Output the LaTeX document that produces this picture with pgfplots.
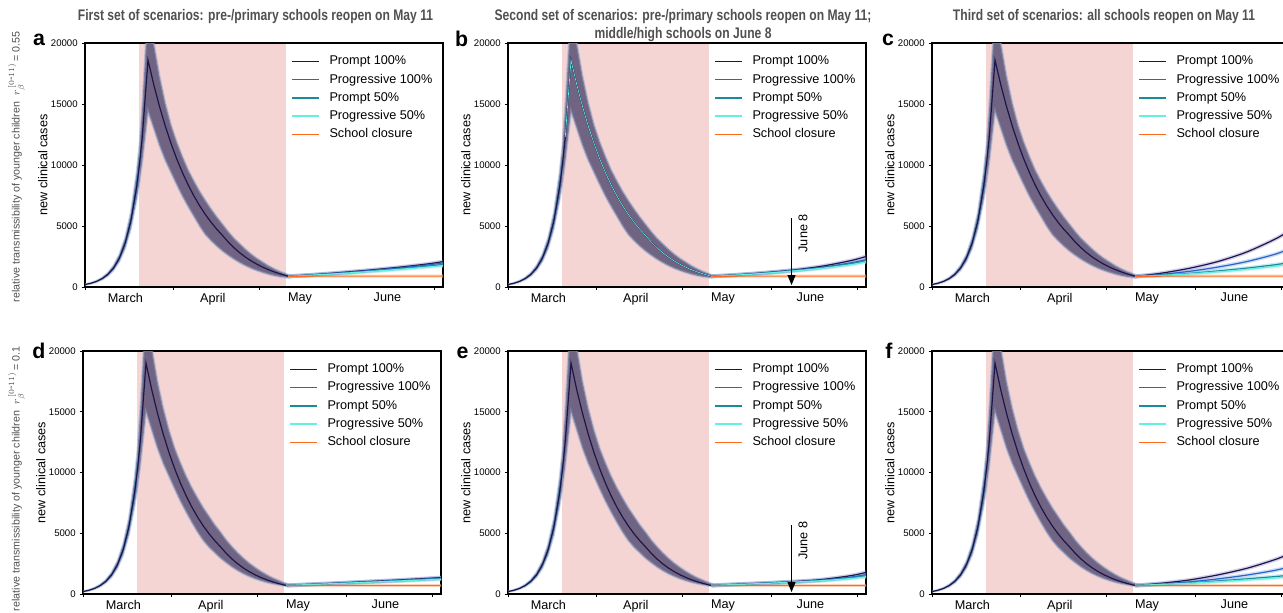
\documentclass[border=0pt]{standalone}
\usepackage{pgfplots}
\pgfplotsset{compat=1.18}
\usepackage{pgfplotstable}
\usepgfplotslibrary{fillbetween}
\usetikzlibrary{arrows.meta}
\usepackage{graphicx}
\usepackage{fontspec}
\setmainfont{Liberation Sans}

\definecolor{pinkc}{RGB}{245,212,212}
\definecolor{cPa}{RGB}{28,22,75}
\definecolor{cGa}{RGB}{40,100,205}
\definecolor{cPb}{RGB}{25,140,155}
\definecolor{cGb}{RGB}{100,240,225}
\definecolor{cCL}{RGB}{255,105,25}
\definecolor{hPa}{RGB}{160,150,205}
\definecolor{hGa}{RGB}{150,180,232}
\definecolor{hPb}{RGB}{140,210,215}
\definecolor{hGb}{RGB}{175,240,235}
\definecolor{hCL}{RGB}{255,190,150}
\definecolor{bandB}{RGB}{78,105,148}
\definecolor{bandP}{RGB}{112,100,130}
\definecolor{haze}{RGB}{140,165,205}
\definecolor{ttl}{RGB}{80,80,80}

% common trajectory before reopening, r = 0.55
\pgfplotstableread{
t mid up lo
0 200 225 178
2 302 340 268
4 456 512 405
6 688 772 612
8 1039 1165 924
10 1569 1760 1395
12 2369 2655 2105
14 3577 4010 3180
16 5401 6060 4800
18 8156 9300 7150
19 10000 11500 8600
20 12314 14800 10300
22 18600 23000 14400
24 16597 20000 13000
26 14810 17300 11600
28 13215 15100 10400
30 11792 13300 9400
32 10522 11900 8400
34 9389 10700 7450
36 8378 9600 6600
38 7475 8700 5800
40 6670 7850 5000
42 5952 7100 4300
44 5311 6400 3800
46 4739 5750 3350
48 4229 5150 2950
50 3691 4550 2600
52 3222 4000 2280
54 2812 3550 2000
56 2454 3100 1750
58 2142 2700 1530
60 1870 2350 1350
62 1632 2050 1190
64 1424 1750 1050
66 1243 1500 930
68 1085 1280 840
70 947 1100 780
71 884 1000 760
72 880 960 790
}\pretop

% common trajectory before reopening, r = 0.1
\pgfplotstableread{
t mid up lo
0 200 225 178
2 303 340 270
4 458 515 408
6 693 778 617
8 1048 1175 933
10 1585 1780 1410
12 2398 2690 2135
14 3628 4070 3230
16 5489 6160 4880
18 8305 9450 7300
19 10200 11700 8800
20 12565 15200 10600
22 19000 23500 15000
24 16817 20300 13500
26 14885 17500 12000
28 13175 15300 10750
30 11661 13500 9700
32 10321 12000 8650
34 9135 10800 7650
36 8086 9700 6750
38 7157 8750 5900
40 6335 7900 5100
42 5607 7100 4400
44 4963 6400 3850
46 4393 5700 3400
48 3888 5100 2950
50 3350 4450 2580
52 2886 3900 2230
54 2487 3400 1930
56 2143 2950 1670
58 1846 2550 1450
60 1591 2200 1260
62 1371 1880 1100
64 1181 1600 960
66 1017 1350 850
68 877 1150 760
70 755 950 680
71 700 870 650
72 712 790 650
}\prebot

\pgfplotstableread{
t pa ga pb gb cl
71 884 884 884 884 884
72 890 890 888 886 888
80 1010 1000 990 980 890
90 1200 1170 1140 1120 890
100 1400 1360 1310 1280 890
110 1630 1570 1500 1450 890
120 1900 1820 1720 1640 890
125 2080 1980 1850 1750 890
}\posta

\pgfplotstableread{
t pa ga pb gb cl
71 884 884 884 884 884
72 890 890 888 886 888
80 1000 990 985 980 890
90 1180 1160 1150 1130 890
100 1400 1370 1350 1320 890
110 1720 1630 1590 1540 890
120 2180 1990 1920 1840 890
125 2500 2250 2150 2060 890
}\postb

\pgfplotstableread{
t pa ga pb gb cl
71 884 884 884 884 884
72 892 890 888 886 888
80 1130 1030 970 950 890
90 1540 1290 1120 1080 890
100 2100 1640 1320 1250 890
110 2880 2090 1550 1450 890
120 3950 2700 1830 1700 890
125 4650 3150 2030 1880 890
}\postc

\pgfplotstableread{
t pa ga pb gb cl
71 700 700 700 700 700
72 715 715 713 712 705
80 800 795 790 785 705
90 910 900 885 875 705
100 1030 1010 990 970 705
110 1150 1120 1090 1070 705
120 1280 1240 1200 1170 705
125 1350 1310 1260 1220 705
}\postd

\pgfplotstableread{
t pa ga pb gb cl
71 700 700 700 700 700
72 715 715 713 712 705
80 800 795 790 785 705
90 900 895 885 875 705
100 1020 1010 995 980 705
110 1200 1150 1130 1100 705
120 1520 1400 1340 1280 705
125 1780 1600 1500 1420 705
}\poste

\pgfplotstableread{
t pa ga pb gb cl
71 700 700 700 700 700
72 717 715 713 712 705
80 880 830 800 790 705
90 1160 1000 920 890 705
100 1580 1250 1080 1020 705
110 2120 1560 1250 1160 705
120 2850 1960 1440 1320 705
125 3330 2250 1550 1420 705
}\postf

\pgfplotsset{
  panel/.style={
    set layers,
    scale only axis, width=268.5pt, height=183pt, anchor=north west,
    xmin=0, xmax=125, ymin=0, ymax=20000,
    xtick={0,31,61,92,122},
    xticklabels={March,April,May,June},
    x tick label as interval,
    ytick={0,5000,10000,15000,20000},
    scaled y ticks=false,
    tick align=outside, tick pos=left,
    major tick length=2.5pt,
    tick style={line width=0.7pt, black},
    axis line style={line width=0.8pt},
    /pgf/number format/1000 sep={},
    /pgf/number format/assume math mode=true,
    yticklabel style={font=\fontsize{7.2}{8}\selectfont, xshift=0.5pt},
    xticklabel style={font=\fontsize{9.5}{11}\selectfont, xshift=-3pt, yshift=1.5pt},
    ylabel={new clinical cases},
    ylabel style={at={(axis description cs:-0.118,0.5)}, anchor=center, font=\fontsize{9.5}{11}\selectfont},
    legend style={draw=none, fill=none, at={(0.575,0.96)}, anchor=north west,
      font=\fontsize{9.5}{11}\selectfont, inner sep=0pt, row sep=1.1pt, column sep=5.9pt,
      nodes={inner sep=1.8pt, text height=7pt, text depth=2pt}},
    legend cell align=left,
    legend image code/.code={\draw[##1, line width=1.1pt] (0pt,0pt) -- (20pt,0pt);},
  },
}

\newcommand{\pinkzone}{%
  \addplot[draw=none, fill=pinkc, forget plot, on layer=axis background] coordinates {(19,20000) (70.2,20000)} \closedcycle;}

\newcommand{\bands}[1]{%
  \addplot[draw=none, name path=U, forget plot] table[x=t,y=up]{#1};
  \addplot[draw=none, name path=L, forget plot] table[x=t,y=lo]{#1};
  \addplot[fill=bandB, draw=none, forget plot] fill between[of=U and L, soft clip={domain=0:19}];
  \addplot[fill=bandP, draw=none, forget plot] fill between[of=U and L, soft clip={domain=19:72}];
  \addplot[haze, line width=1.5pt, opacity=0.5, forget plot] table[x=t,y=up]{#1};
  \addplot[haze, line width=1.5pt, opacity=0.5, forget plot] table[x=t,y=lo]{#1};
  \addplot[cPa, line width=0.9pt, forget plot] table[x=t,y=mid]{#1};}

\newcommand{\postlines}[1]{%
  \addplot[hCL, line width=2.5pt, opacity=0.45, forget plot] table[x=t,y=cl]{#1};
  \addplot[hGb, line width=3pt, opacity=0.45, smooth, forget plot] table[x=t,y=gb]{#1};
  \addplot[hPb, line width=3pt, opacity=0.45, smooth, forget plot] table[x=t,y=pb]{#1};
  \addplot[hGa, line width=3pt, opacity=0.45, smooth, forget plot] table[x=t,y=ga]{#1};
  \addplot[hPa, line width=3pt, opacity=0.45, smooth, forget plot] table[x=t,y=pa]{#1};
  \addplot[draw=cPa, line width=0.9pt, smooth, mark=none] table[x=t,y=pa]{#1};
  \addlegendentry{Prompt 100\%}
  \addplot[draw=cGa, line width=0.9pt, smooth, mark=none] table[x=t,y=ga]{#1};
  \addlegendentry{Progressive 100\%}
  \addplot[draw=cPb, line width=0.9pt, smooth, mark=none] table[x=t,y=pb]{#1};
  \addlegendentry{Prompt 50\%}
  \addplot[draw=cGb, line width=0.9pt, smooth, mark=none] table[x=t,y=gb]{#1};
  \addlegendentry{Progressive 50\%}
  \addplot[draw=cCL, line width=0.9pt, mark=none] table[x=t,y=cl]{#1};
  \addlegendentry{School closure}}

\newcommand{\junearrow}{%
  \draw[-{Triangle[length=7.5pt,width=6pt]}, line width=0.75pt] (axis cs:99,5650) -- (axis cs:99,160);
  \node[rotate=90, font=\fontsize{9.5}{11}\selectfont] at (axis cs:103,4400) {June 8};}

\newcommand{\ttlfont}{\bfseries\fontsize{11.5}{13}\selectfont\color{ttl}}

\begin{document}
\begin{tikzpicture}
% ---- top row
\begin{axis}[panel, at={(63.75pt,-32.25pt)}]
\pinkzone \bands{\pretop} \postlines{\posta}
\end{axis}
\begin{axis}[panel, at={(381pt,-32.25pt)}]
\pinkzone \bands{\pretop}
\addplot[cGb, line width=0.5pt, forget plot, restrict x to domain=20:72] table[x=t,y=mid]{\pretop};
\postlines{\postb} \junearrow
\end{axis}
\begin{axis}[panel, at={(699pt,-32.25pt)}]
\pinkzone \bands{\pretop} \postlines{\postc}
\end{axis}
% ---- bottom row
\begin{axis}[panel, height=182.25pt, at={(62.25pt,-263.25pt)}]
\pinkzone \bands{\prebot} \postlines{\postd}
\end{axis}
\begin{axis}[panel, height=182.25pt, at={(381pt,-263.25pt)}]
\pinkzone \bands{\prebot} \postlines{\poste} \junearrow
\end{axis}
\begin{axis}[panel, height=182.25pt, at={(699pt,-263.25pt)}]
\pinkzone \bands{\prebot} \postlines{\postf}
\end{axis}

% titles
\node at (191.6pt,-12.75pt) {\ttlfont\scalebox{0.79}[1]{First set of scenarios: pre-/primary schools reopen on May 11}};
\node at (512.25pt,-12.75pt) {\ttlfont\scalebox{0.79}[1]{Second set of scenarios: pre-/primary schools reopen on May 11;}};
\node at (512.25pt,-26.25pt) {\ttlfont\scalebox{0.79}[1]{middle/high schools on June 8}};
\node at (828pt,-12.75pt) {\ttlfont\scalebox{0.79}[1]{Third set of scenarios: all schools reopen on May 11}};

% row labels
\node[rotate=90, text=ttl, font=\fontsize{8}{9}\selectfont] at (12.5pt,-125pt)
  {relative transmissibility of younger children\ \ $r_{\beta}^{\,[0\mbox{-}11)}$\,= 0.55};
\node[rotate=90, text=ttl, font=\fontsize{8}{9}\selectfont] at (12.5pt,-359pt)
  {relative transmissibility of younger children\ \ $r_{\beta}^{\,[0\mbox{-}11)}$\,= 0.1};

% panel letters
\node[font=\bfseries\fontsize{16}{16}\selectfont] at (29.25pt,-30pt) {a};
\node[font=\bfseries\fontsize{16}{16}\selectfont] at (346.3pt,-29.25pt) {b};
\node[font=\bfseries\fontsize{16}{16}\selectfont] at (666pt,-30pt) {c};
\node[font=\bfseries\fontsize{16}{16}\selectfont] at (29.25pt,-263.25pt) {d};
\node[font=\bfseries\fontsize{16}{16}\selectfont] at (346.9pt,-264.4pt) {e};
\node[font=\bfseries\fontsize{16}{16}\selectfont] at (666.75pt,-262.9pt) {f};

\pgfresetboundingbox
\path[use as bounding box] (0pt,0pt) rectangle (962.25pt,-459pt);
\end{tikzpicture}
\end{document}
